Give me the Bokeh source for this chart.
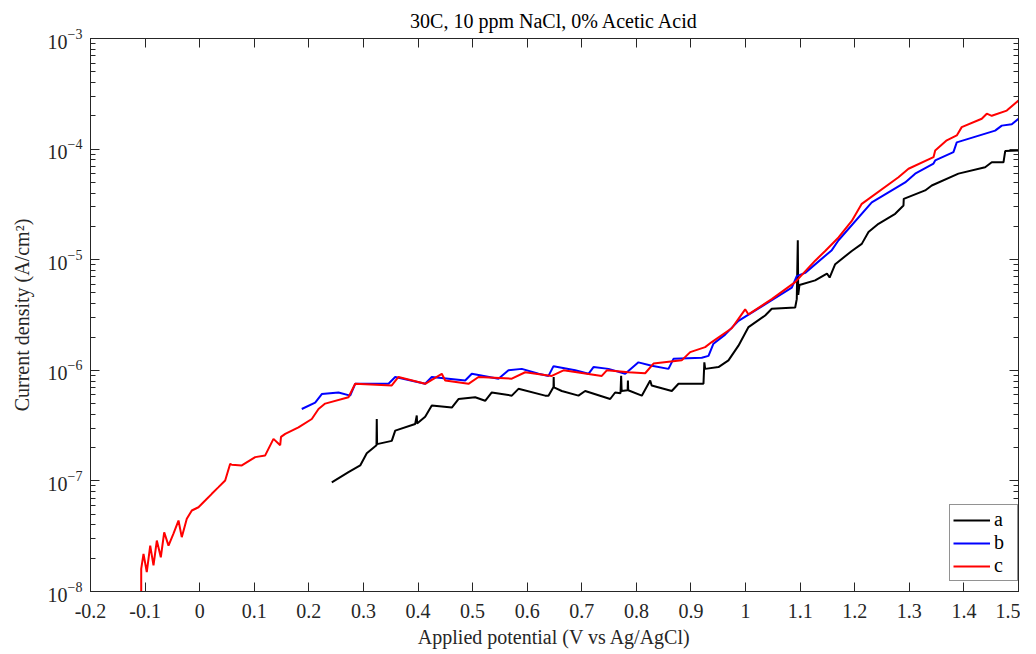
from bokeh.plotting import figure
from bokeh.models import (LinearAxis, LogAxis, FixedTicker, LogTicker, CustomJSTickFormatter,
                          Legend, LegendItem, Range1d)
from bokeh.embed import file_html
from bokeh.resources import INLINE

# ---- data (potential in V vs Ag/AgCl, current density in A/cm^2) ----
a_x = [0.242, 0.2726, 0.2941, 0.3061, 0.3239, 0.3244, 0.3250, 0.3519, 0.3582, 0.3948, 0.3977, 0.3983,
       0.4131, 0.4252, 0.4619, 0.4741, 0.5047, 0.5230, 0.5351, 0.5718, 0.5840, 0.6329, 0.6390, 0.6482,
       0.6485, 0.6490, 0.6633, 0.6939, 0.7062, 0.7520, 0.7611, 0.7709, 0.7721, 0.7730, 0.7840, 0.7845,
       0.7850, 0.8099, 0.8253, 0.8280, 0.8649, 0.8771, 0.9229, 0.9245, 0.9260, 0.9504, 0.9687, 0.9870,
       1.0054, 1.0359, 1.0480, 1.0909, 1.0938, 1.0957, 1.0965, 1.0987, 1.1275, 1.1491, 1.1540, 1.1642,
       1.1946, 1.2129, 1.2252, 1.2435, 1.2741, 1.2893, 1.2898, 1.3290, 1.3411, 1.3900, 1.4389, 1.4510,
       1.4725, 1.4756, 1.5000]
a_y = [9.7e-8, 1.2e-7, 1.38e-7, 1.78e-7, 2.1e-7, 3.63e-7, 2.15e-7, 2.3e-7, 2.85e-7, 3.27e-7, 3.9e-7, 3.3e-7,
       3.8e-7, 4.8e-7, 4.6e-7, 5.5e-7, 5.7e-7, 5.3e-7, 6.3e-7, 5.9e-7, 6.8e-7, 5.9e-7, 5.9e-7, 7.05e-7,
       8.7e-7, 7.0e-7, 6.5e-7, 5.9e-7, 6.5e-7, 5.5e-7, 6.3e-7, 6.2e-7, 8.9e-7, 6.5e-7, 6.6e-7, 8.1e-7,
       6.6e-7, 5.9e-7, 8.1e-7, 7.3e-7, 6.5e-7, 7.55e-7, 7.55e-7, 1.18e-6, 1.03e-6, 1.07e-6, 1.23e-6, 1.67e-6,
       2.46e-6, 3.13e-6, 3.6e-6, 3.7e-6, 4.4e-6, 1.5e-5, 4.8e-6, 5.9e-6, 6.5e-6, 7.5e-6, 6.9e-6, 9.1e-6,
       1.2e-5, 1.39e-5, 1.78e-5, 2.11e-5, 2.6e-5, 3.09e-5, 3.55e-5, 4.23e-5, 4.69e-5, 6.0e-5, 6.86e-5, 7.6e-5,
       7.6e-5, 9.6e-5, 9.7e-5]

b_x = [0.187, 0.2116, 0.2237, 0.2543, 0.2757, 0.2849, 0.3459, 0.3582, 0.4131, 0.4252, 0.4864, 0.4985,
       0.5474, 0.5657, 0.5901, 0.6207, 0.6390, 0.6482, 0.6879, 0.7123, 0.7214, 0.7489, 0.7795, 0.8038,
       0.8282, 0.8588, 0.8679, 0.9198, 0.9321, 0.9412, 0.9626, 0.9870, 1.0480, 1.0847, 1.0938, 1.1092,
       1.1580, 1.1703, 1.2312, 1.2924, 1.3107, 1.3443, 1.3474, 1.3808, 1.3869, 1.4572, 1.4694, 1.4877, 1.5000]
b_y = [4.47e-7, 5.1e-7, 6.1e-7, 6.3e-7, 5.9e-7, 7.55e-7, 7.55e-7, 8.7e-7, 7.55e-7, 8.7e-7, 8.1e-7, 9.3e-7,
       8.4e-7, 1.0e-6, 1.03e-6, 9.3e-7, 8.9e-7, 1.09e-6, 1.0e-6, 9.3e-7, 1.07e-6, 1.03e-6, 9.3e-7, 1.18e-6,
       1.1e-6, 1.03e-6, 1.27e-6, 1.3e-6, 1.35e-6, 1.74e-6, 2.1e-6, 2.8e-6, 4.3e-6, 5.6e-6, 7.1e-6, 7.6e-6,
       1.22e-5, 1.5e-5, 3.3e-5, 5.0e-5, 6.0e-5, 7.4e-5, 7.9e-5, 9.4e-5, 1.15e-4, 1.47e-4, 1.63e-4, 1.68e-4, 1.88e-4]

c_x = [-0.1071, -0.1071, -0.1029, -0.0969, -0.0906, -0.0846, -0.0785, -0.0712, -0.0650, -0.0571, -0.0480,
       -0.0388, -0.0328, -0.0236, -0.0144, -0.0022, 0.0101, 0.0222, 0.0345, 0.0467, 0.0559, 0.0588, 0.0772,
       0.1017, 0.1200, 0.1352, 0.1475, 0.1490, 0.1567, 0.1810, 0.2054, 0.2177, 0.2299, 0.2726, 0.2849,
       0.3519, 0.3642, 0.4131, 0.4435, 0.4498, 0.4924, 0.5108, 0.5718, 0.5963, 0.6450, 0.6665, 0.7366,
       0.7458, 0.7855, 0.8161, 0.8313, 0.8830, 0.8986, 0.9260, 0.9381, 0.9747, 0.9870, 0.9993, 1.0054,
       1.0480, 1.0909, 1.1275, 1.1459, 1.1703, 1.1946, 1.2129, 1.2801, 1.2985, 1.3443, 1.3474, 1.3686,
       1.3869, 1.3960, 1.4327, 1.4419, 1.4510, 1.4785, 1.5000]
c_y = [9.0e-9, 1.6e-8, 2.19e-8, 1.5e-8, 2.6e-8, 1.72e-8, 2.89e-8, 2.04e-8, 3.43e-8, 2.6e-8, 3.34e-8,
       4.38e-8, 3.1e-8, 4.54e-8, 5.4e-8, 5.78e-8, 6.65e-8, 7.64e-8, 8.78e-8, 1.01e-7, 1.43e-7, 1.4e-7, 1.38e-7,
       1.64e-7, 1.7e-7, 2.4e-7, 2.1e-7, 2.5e-7, 2.66e-7, 3.05e-7, 3.63e-7, 4.47e-7, 5.0e-7, 5.7e-7, 7.55e-7,
       7.3e-7, 8.7e-7, 7.55e-7, 9.3e-7, 8.1e-7, 7.55e-7, 8.7e-7, 8.4e-7, 9.6e-7, 8.9e-7, 1.0e-6, 8.9e-7,
       1.0e-6, 9.6e-7, 9.4e-7, 1.15e-6, 1.23e-6, 1.46e-6, 1.62e-6, 1.8e-6, 2.4e-6, 2.92e-6, 3.56e-6, 3.2e-6,
       4.4e-6, 6.27e-6, 9.8e-6, 1.2e-5, 1.59e-5, 2.24e-5, 3.2e-5, 5.57e-5, 6.64e-5, 8.45e-5, 9.7e-5, 1.2e-4,
       1.33e-4, 1.58e-4, 1.88e-4, 2.09e-4, 2.0e-4, 2.23e-4, 2.75e-4]

series_names = ["a", "b", "c"]
series_colors = ["#000000", "#0000ff", "#ff0000"]
x_ticks = [-0.2, -0.1, 0.0, 0.1, 0.2, 0.3, 0.4, 0.5, 0.6, 0.7, 0.8, 0.9, 1.0, 1.1, 1.2, 1.3, 1.4, 1.5]

FONT = "Liberation Serif"
AX = "#262626"

p = figure(frame_width=928, frame_height=553, y_axis_type="log",
           x_range=Range1d(-0.2, 1.5), y_range=Range1d(1e-8, 1e-3),
           output_backend="svg", toolbar_location=None,
           min_border_left=90, min_border_right=2, min_border_top=10, min_border_bottom=10,
           title="30C, 10 ppm NaCl, 0% Acetic Acid")
p.title.align = "center"
p.title.text_font = FONT
p.title.text_font_style = "normal"
p.title.text_font_size = "20px"
p.title.text_color = "#000000"
p.title.offset = 0
p.title.standoff = 14
p.xgrid.visible = False
p.ygrid.visible = False
p.outline_line_color = AX
p.background_fill_color = "white"
p.border_fill_color = "white"

fmt = CustomJSTickFormatter(code="return Number(tick.toFixed(1)).toString();")
blank = CustomJSTickFormatter(code="return '';")

def style(ax, labels=True):
    ax.axis_line_color = AX
    ax.major_tick_line_color = AX
    ax.minor_tick_line_color = AX
    ax.major_tick_in = 9
    ax.major_tick_out = 0
    ax.minor_tick_in = 5
    ax.minor_tick_out = 0
    ax.major_label_text_font = FONT
    ax.major_label_text_font_size = "20px"
    ax.major_label_text_color = AX if labels else None
    ax.axis_label_text_font = FONT
    ax.axis_label_text_font_size = "20px"
    ax.axis_label_text_font_style = "normal"
    ax.axis_label_text_color = AX

xa = p.xaxis[0]
xa.ticker = FixedTicker(ticks=x_ticks)
xa.formatter = fmt
xa.axis_label = "Applied potential (V vs Ag/AgCl)"
style(xa)
xa.major_label_standoff = 12
xa.axis_label_standoff = 5

ya = p.yaxis[0]
ya.ticker = LogTicker(num_minor_ticks=10)
ya.axis_label = "Current density (A/cm²)"
style(ya)
ya.major_label_standoff = 8
ya.axis_label_standoff = 12

top = LinearAxis(ticker=FixedTicker(ticks=x_ticks), formatter=blank)
style(top, labels=False)
top.major_label_standoff = 0
p.add_layout(top, "above")
right = LogAxis(ticker=LogTicker(num_minor_ticks=10), formatter=blank)
style(right, labels=False)
right.major_label_standoff = 0
p.add_layout(right, "right")

items = []
for nm, xs, ys, col in zip(series_names, [a_x, b_x, c_x], [a_y, b_y, c_y], series_colors):
    r = p.line(xs, ys, line_color=col, line_width=2)
    items.append(LegendItem(label=nm, renderers=[r]))

leg = Legend(items=items, location=(859, 10))
leg.label_text_font = FONT
leg.label_text_font_size = "20px"
leg.label_text_color = "#000000"
leg.glyph_width = 37
leg.glyph_height = 20
leg.label_height = 20
leg.label_width = 20
leg.label_standoff = 4
leg.padding = 3
leg.spacing = 0
leg.margin = 0
leg.border_line_color = AX
leg.border_line_width = 1
leg.background_fill_alpha = 1
p.add_layout(leg, "center")

open("out.html", "w").write(file_html(p, INLINE))
